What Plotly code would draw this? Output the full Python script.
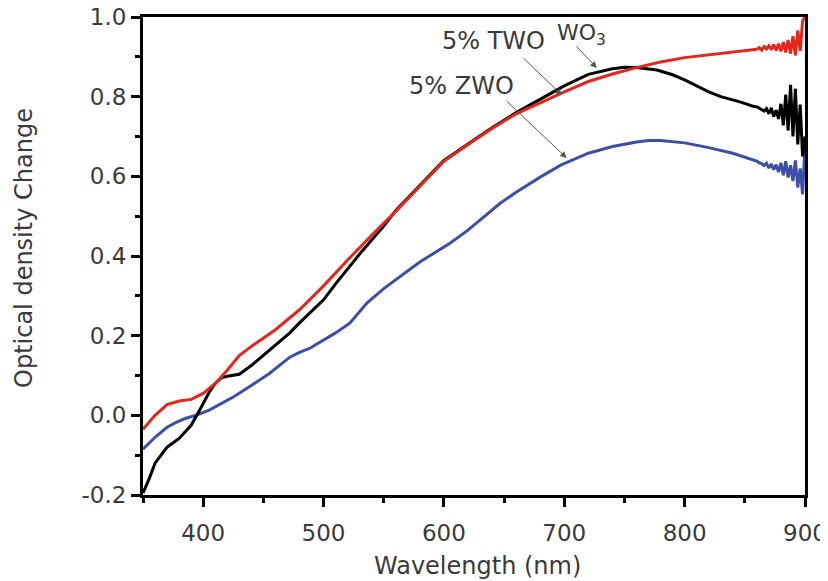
import plotly.graph_objects as go

# ---- data ----
red_wl = [350, 360, 370, 380, 390, 400, 410, 420, 430, 440, 460, 480, 500, 520, 540, 560, 580,
          600, 620, 640, 660, 680, 700, 720, 740, 760, 780, 800, 820, 840, 858]
red_od = [-0.035, 0.0, 0.027, 0.036, 0.040, 0.055, 0.080, 0.113, 0.150, 0.173, 0.215, 0.265, 0.325,
          0.390, 0.452, 0.512, 0.575, 0.638, 0.680, 0.720, 0.757, 0.785, 0.812, 0.838, 0.857, 0.873,
          0.887, 0.898, 0.905, 0.912, 0.918]

black_wl = [350, 355, 360, 370, 380, 390, 397, 405, 410, 415, 420, 430, 440, 450, 460, 472, 480,
            490, 500, 510, 520, 530, 540, 550, 560, 580, 600, 620, 640, 660, 680, 700, 720, 740,
            750, 760, 777, 790, 800, 810, 820, 830, 846, 858]
black_od = [-0.195, -0.16, -0.12, -0.08, -0.058, -0.025, 0.013, 0.058, 0.080, 0.094, 0.098, 0.103,
            0.125, 0.150, 0.176, 0.207, 0.232, 0.260, 0.290, 0.330, 0.368, 0.405, 0.440, 0.475,
            0.514, 0.577, 0.640, 0.681, 0.722, 0.760, 0.793, 0.827, 0.856, 0.870, 0.874, 0.873,
            0.867, 0.855, 0.842, 0.826, 0.812, 0.800, 0.787, 0.775]

blue_wl = [350, 360, 370, 378, 385, 395, 405, 415, 425, 440, 455, 472, 480, 489, 500, 510, 522,
           536, 550, 563, 580, 605, 620, 647, 660, 680, 697, 720, 740, 760, 770, 780, 800, 820,
           840, 852, 858]
blue_od = [-0.085, -0.055, -0.030, -0.017, -0.008, 0.001, 0.013, 0.030, 0.046, 0.075, 0.105, 0.146,
           0.158, 0.169, 0.188, 0.207, 0.232, 0.282, 0.318, 0.347, 0.385, 0.432, 0.465, 0.533,
           0.560, 0.598, 0.628, 0.658, 0.675, 0.686, 0.690, 0.690, 0.684, 0.672, 0.658, 0.646, 0.640]

# noisy tails 860..900 nm
tail_wl = [860, 862, 864, 866, 868, 870, 872, 874, 876, 878, 880, 882, 884, 886, 888, 890, 892,
           894, 896, 898, 900]
red_tail = [0.919, 0.923, 0.917, 0.926, 0.920, 0.928, 0.918, 0.931, 0.916, 0.933, 0.914, 0.937,
            0.911, 0.942, 0.908, 0.952, 0.904, 0.966, 0.915, 0.99, 1.0]
black_tail = [0.775, 0.771, 0.768, 0.764, 0.770, 0.757, 0.772, 0.750, 0.766, 0.744, 0.782, 0.728,
              0.805, 0.715, 0.83, 0.70, 0.82, 0.68, 0.78, 0.65, 0.70]
blue_tail = [0.638, 0.634, 0.632, 0.627, 0.633, 0.621, 0.631, 0.617, 0.629, 0.611, 0.634, 0.603,
             0.638, 0.597, 0.628, 0.588, 0.64, 0.572, 0.62, 0.555, 0.68]

y_ticks = [-0.2, 0.0, 0.2, 0.4, 0.6, 0.8, 1.0]
y_tick_text = ["-0.2", "0.0", "0.2", "0.4", "0.6", "0.8", "1.0"]
x_ticks = [400, 500, 600, 700, 800, 900]

RED = "#e4261d"
BLACK = "#000000"
BLUE = "#3b4fa6"
TXT = "#3a3a3a"
FONT = "DejaVu Sans"

fig = go.Figure()
fig.add_trace(go.Scatter(x=blue_wl + tail_wl, y=blue_od + blue_tail, mode="lines",
                         line=dict(color=BLUE, width=3), name="5% ZWO"))
fig.add_trace(go.Scatter(x=black_wl + tail_wl, y=black_od + black_tail, mode="lines",
                         line=dict(color=BLACK, width=3), name="WO3"))
fig.add_trace(go.Scatter(x=red_wl + tail_wl, y=red_od + red_tail, mode="lines",
                         line=dict(color=RED, width=3), name="5% TWO"))

fig.update_xaxes(range=[350, 900], tickvals=x_ticks, ticks="outside", ticklen=9, tickwidth=3,
                 tickcolor="black", showline=True, linewidth=3, linecolor="black", mirror=True,
                 showgrid=False, zeroline=False, automargin=False, ticklabelstandoff=6,
                 ticklabeloverflow="allow",
                 minor=dict(dtick=50, tick0=350, ticks="outside", ticklen=5, tickwidth=3,
                            tickcolor="black", showgrid=False),
                 tickfont=dict(family=FONT, size=23, color=TXT))
fig.update_yaxes(range=[-0.2, 1.0], tickvals=y_ticks, ticktext=y_tick_text, ticks="outside",
                 ticklen=9, tickwidth=3, tickcolor="black", showline=True, linewidth=3,
                 linecolor="black", mirror=True, showgrid=False, zeroline=False, automargin=False,
                 ticklabeloverflow="allow",
                 minor=dict(dtick=0.1, tick0=-0.2, ticks="outside", ticklen=5, tickwidth=3,
                            tickcolor="black", showgrid=False),
                 tickfont=dict(family=FONT, size=23, color=TXT))

# page body has an 8px margin, so the figure is drawn 8px right/down
OFF = 8
L, R, T, B = 143, 805, 17, 495
PW = R - L
PH = B - T

annotations = [
    # arrows
    dict(x=698, y=0.804, ax=665, ay=0.90, xref="x", yref="y", axref="x", ayref="y", text="",
         showarrow=True, arrowhead=2, arrowsize=1.3, arrowwidth=1, arrowcolor="#555555"),
    dict(x=702, y=0.646, ax=651, ay=0.792, xref="x", yref="y", axref="x", ayref="y", text="",
         showarrow=True, arrowhead=2, arrowsize=1.3, arrowwidth=1, arrowcolor="#555555"),
    dict(x=727, y=0.872, ax=709, ay=0.93, xref="x", yref="y", axref="x", ayref="y", text="",
         showarrow=True, arrowhead=2, arrowsize=1.3, arrowwidth=1, arrowcolor="#555555"),
    # labels
    dict(x=641, y=0.94, xref="x", yref="y", text="5% TWO", showarrow=False,
         font=dict(family=FONT, size=24, color=TXT)),
    dict(x=615, y=0.826, xref="x", yref="y", text="5% ZWO", showarrow=False,
         font=dict(family=FONT, size=24, color=TXT)),
    dict(x=714, y=0.955, xref="x", yref="y", text="WO<sub>3</sub>", showarrow=False,
         font=dict(family=FONT, size=22, color=TXT)),
    # axis titles
    dict(x=(477 - L) / PW, y=(B - 566) / PH, xref="paper", yref="paper",
         xanchor="center", yanchor="middle",
         text="Wavelength (nm)", showarrow=False, font=dict(family=FONT, size=24, color=TXT)),
    dict(x=(24 - L) / PW, y=(B - 248) / PH, xref="paper", yref="paper",
         xanchor="center", yanchor="middle",
         text="Optical density Change", showarrow=False, textangle=-90,
         font=dict(family=FONT, size=24, color=TXT)),
]

W, H = 828 - OFF, 581 - OFF
fig.update_layout(width=W, height=H,
                  margin=dict(l=L - OFF, r=W - (R - OFF), t=T - OFF, b=H - (B - OFF),
                              autoexpand=False),
                  plot_bgcolor="white", paper_bgcolor="white", showlegend=False,
                  annotations=annotations)

fig.write_html("out.html")
